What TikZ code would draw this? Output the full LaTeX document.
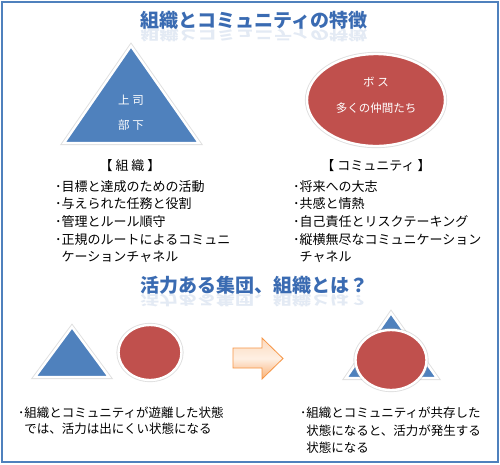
\documentclass[tikz,border=0pt]{standalone}
\usepackage{fontspec}
\setmainfont{Noto Sans CJK JP}
\definecolor{accblue}{HTML}{4F81BD}
\definecolor{accred}{HTML}{C0504D}
\definecolor{accorange}{HTML}{F79646}
\definecolor{titleblue}{HTML}{3A6BB2}
\tikzset{
  glow/.style={preaction={draw=black!35,line width=4.2pt,opacity=.35},draw=white,line width=2.4pt},
  tri/.style={glow,fill=accblue,line join=miter},
  ell/.style={glow,fill=accred},
  titletext/.style={inner sep=0,text=titleblue,font=\fontsize{19}{21}\selectfont\bfseries},
  itemtext/.style={anchor=base west,inner sep=0,font=\fontsize{13}{15}\selectfont},
  headtext/.style={inner sep=0,font=\fontsize{13}{15}\selectfont},
  shapetext/.style={inner sep=0,text=white,font=\fontsize{11.5}{13}\selectfont},
  bottext/.style={anchor=base west,inner sep=0,font=\fontsize{12.5}{14}\selectfont},
}
\begin{document}
\begin{tikzpicture}[x=1pt,y=-1pt]
\useasboundingbox (0,0) rectangle (500,464);
\fill[white] (0,0) rectangle (500,464);
\draw[accblue,line width=2.5pt] (2,2) rectangle (498,462);

% titles
\node[titletext] (title1) at (254,20) {組織とコミュニティの特徴};
\begin{scope}[shift={(254,36)},yscale=-0.7]
  \node[titletext,transform shape,opacity=.14] (title1r) at (0,0) {組織とコミュニティの特徴};
\end{scope}
\node[titletext] (title2) at (254,285) {活力ある集団、組織とは？};
\begin{scope}[shift={(254,301)},yscale=-0.7]
  \node[titletext,transform shape,opacity=.14] (title2r) at (0,0) {活力ある集団、組織とは？};
\end{scope}

% top shapes
\draw[tri] (131,46) -- (199,143) -- (64,143) -- cycle;
\node[shapetext] (boss1) at (131,100) {上 司};
\node[shapetext] (sub1) at (131,125) {部 下};
\draw[ell] (376,100) ellipse [x radius=69,y radius=46];
\node[shapetext] (boss2) at (376,82) {ボ ス};
\node[shapetext] (mates) at (376,108) {多くの仲間たち};

% headers
\node[headtext] (hl) at (130,166) {【 組 織 】};
\node[headtext] (hr) at (376,166) {【 コミュニティ 】};

% left list
\node[itemtext] (l1) at (55,191) {･目標と達成のための活動};
\node[itemtext] (l2) at (55,208) {･与えられた任務と役割};
\node[itemtext] (l3) at (55,226) {･管理とルール順守};
\node[itemtext] (l4) at (55,244) {･正規のルートによるコミュニ};
\node[itemtext] (l5) at (55,261) {\phantom{･}ケーションチャネル};
% right list
\node[itemtext] (r1) at (293,191) {･将来への大志};
\node[itemtext] (r2) at (293,208) {･共感と情熱};
\node[itemtext] (r3) at (293,226) {･自己責任とリスクテーキング};
\node[itemtext] (r4) at (293,244) {･縦横無尽なコミュニケーション};
\node[itemtext] (r5) at (293,261) {\phantom{･}チャネル};

% bottom left shapes
\draw[tri] (72,327) -- (109,377) -- (35,377) -- cycle;
\draw[ell] (150,352.5) ellipse [x radius=31.5,y radius=27.5];

% arrow
\draw[accorange,line width=0.8pt,top color=accorange!35!white,bottom color=accorange!75!white,middle color=accorange!15!white]
  (233,348) -- (262,348) -- (262,338) -- (283,358.5) -- (262,379) -- (262,368) -- (233,368) -- cycle;

% bottom right shapes
\draw[tri] (391,313) -- (437,378) -- (346,378) -- cycle;
\draw[ell] (391,360) ellipse [x radius=35.5,y radius=30];

% bottom texts
\node[bottext] (bl1) at (18,417) {･組織とコミュニティが遊離した状態};
\node[bottext] (bl2) at (18,433.5) {\phantom{･}では、活力は出にくい状態になる};
\node[bottext] (br1) at (300,417) {･組織とコミュニティが共存した};
\node[bottext] (br2) at (300,435) {\phantom{･}状態になると、活力が発生する};
\node[bottext] (br3) at (300,452) {\phantom{･}状態になる};
\end{tikzpicture}
\end{document}
